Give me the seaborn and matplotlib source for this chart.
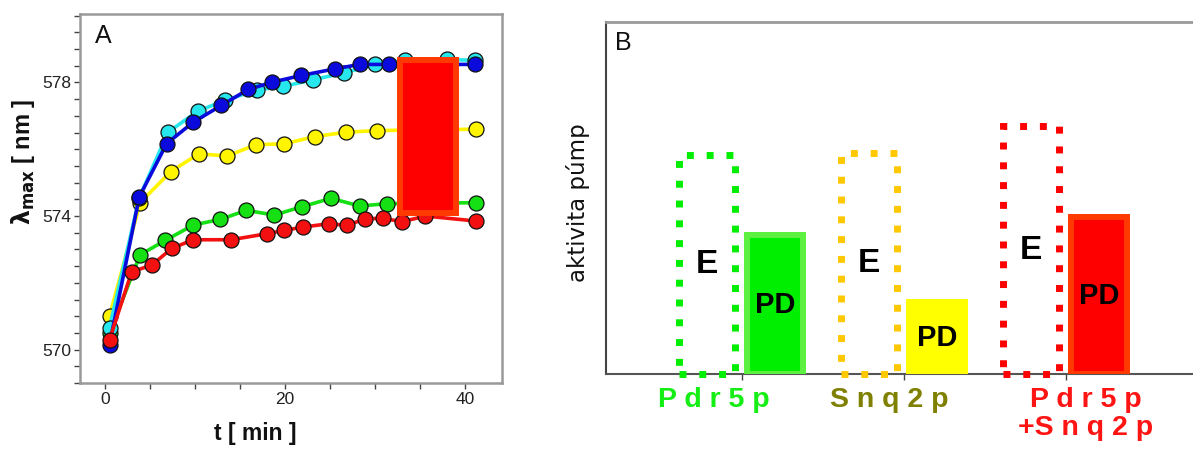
import numpy as np
import pandas as pd
import matplotlib
matplotlib.use("Agg")
import matplotlib.pyplot as plt
from matplotlib.ticker import MultipleLocator, FixedLocator
import seaborn as sns

# ---------------- data: panel A ----------------
t_cyan = [0.5, 3.8, 7.0, 10.3, 13.3, 16.9, 19.8, 23.1, 26.6, 30.0, 33.3, 38.0, 41.1]
v_cyan = [570.66, 574.55, 576.51, 577.14, 577.46, 577.78, 577.88, 578.08, 578.29, 578.54, 578.66, 578.69, 578.66]
t_blue = [0.5, 3.8, 6.85, 9.8, 12.9, 15.9, 18.6, 21.8, 25.6, 28.3, 31.5, 41.1]
v_blue = [570.15, 574.57, 576.17, 576.81, 577.31, 577.79, 578.01, 578.21, 578.41, 578.54, 578.54, 578.54]
t_yellow = [0.5, 3.9, 7.3, 10.4, 13.6, 16.8, 19.9, 23.3, 26.8, 30.2, 41.2]
v_yellow = [571.0, 574.4, 575.33, 575.86, 575.8, 576.14, 576.16, 576.38, 576.51, 576.56, 576.6]
t_green = [0.5, 3.9, 6.7, 9.8, 12.8, 15.7, 18.8, 21.9, 25.1, 28.3, 31.3, 41.2]
v_green = [570.5, 572.84, 573.27, 573.73, 573.9, 574.17, 574.03, 574.28, 574.53, 574.3, 574.37, 574.4]
t_red = [0.5, 2.96, 5.2, 7.4, 9.8, 14.0, 18.0, 19.9, 22.0, 24.9, 26.9, 28.9, 30.9, 33.0, 35.6, 41.2]
v_red = [570.3, 572.33, 572.53, 573.03, 573.29, 573.29, 573.47, 573.57, 573.67, 573.77, 573.72, 573.92, 573.93, 573.83, 574.0, 573.85]

series_order = ["yellow", "green", "cyan", "blue", "red"]
series_colors = {"yellow": "#FFF500", "green": "#14E014", "cyan": "#26E6EE",
                 "blue": "#0A0ADC", "red": "#F21010"}
y_ticks = [570, 574, 578]
x_ticks = [0, 20, 40]

# red overlay box in panel A (time range and wavelength range)
box_t = [32.75, 39.0]
box_v = [574.1, 578.68]

# ---------------- data: panel B ----------------
pumps = ["Pdr5p", "Snq2p", "Pdr5p+Snq2p"]
pump_labels = ["P d r 5 p", "S n q 2 p", "P d r 5 p\n+S n q 2 p"]
label_colors = ["#14EE14", "#7F7F00", "#FF1414"]
E_vals = [0.622, 0.628, 0.704]
PD_vals = [0.395, 0.204, 0.445]
E_edge = ["#00EE00", "#FFC800", "#FF0000"]
PD_face = ["#00EE00", "#FFFF00", "#FF0000"]
PD_edge = ["#5CF040", "#FFFF00", "#FF3A00"]

# ---------------- figure ----------------
sns.set_theme(style="ticks")
plt.rcParams["font.family"] = ["Liberation Sans", "DejaVu Sans"]

W, H = 1193, 453
fig = plt.figure(figsize=(W / 100, H / 100), dpi=100, facecolor="white")

# ---- panel A ----
axA = fig.add_axes([80 / W, 1 - 383 / H, 422 / W, 369 / H])
dfA = pd.concat([
    pd.DataFrame({"t": t_yellow, "v": v_yellow, "s": "yellow"}),
    pd.DataFrame({"t": t_green, "v": v_green, "s": "green"}),
    pd.DataFrame({"t": t_cyan, "v": v_cyan, "s": "cyan"}),
    pd.DataFrame({"t": t_blue, "v": v_blue, "s": "blue"}),
    pd.DataFrame({"t": t_red, "v": v_red, "s": "red"}),
], ignore_index=True)
sns.lineplot(data=dfA, x="t", y="v", hue="s", hue_order=series_order,
             palette=series_colors, marker="o", markersize=10.8,
             markeredgecolor="#111111", markeredgewidth=0.9, linewidth=2.6,
             errorbar=None, legend=False, ax=axA)
axA.bar(x=(box_t[0] + box_t[1]) / 2, height=box_v[1] - box_v[0], bottom=box_v[0],
        width=box_t[1] - box_t[0], color="#FF0000", edgecolor="#FF3A00",
        linewidth=4.3, zorder=5)
axA.set_xlim(-2.78, 44.1)
axA.set_ylim(569.0, 580.05)
axA.xaxis.set_major_locator(FixedLocator(x_ticks))
axA.xaxis.set_minor_locator(MultipleLocator(5))
axA.yaxis.set_major_locator(FixedLocator(y_ticks))
axA.yaxis.set_minor_locator(MultipleLocator(0.5))
axA.tick_params(which="both", direction="out", length=4, width=1.0, color="#444444")
axA.tick_params(which="major", labelsize=12.5, labelcolor="#222222", pad=2.5)
for sp in axA.spines.values():
    sp.set_color("#999999")
    sp.set_linewidth(1.8)
axA.set_xlabel("t [ min ]", fontsize=16.5, fontweight="bold", color="#111111")
axA.xaxis.set_label_coords(0.415, -0.105)
axA.set_ylabel(r"$\mathbf{\lambda}_{\mathbf{max}}$ [ nm ]", fontsize=17,
               fontweight="bold", color="#111111")
axA.yaxis.set_label_coords(-0.134, 0.60)
axA.yaxis.label.set_verticalalignment("center")
axA.text(0.036, 0.972, "A", transform=axA.transAxes, fontsize=18,
         ha="left", va="top", color="#111111")

# ---- panel B ----
axB = fig.add_axes([606 / W, 1 - 374.3 / H, (1199 - 606) / W, 352.6 / H])
dfB = pd.DataFrame({"pump": pumps * 2, "typ": ["E"] * 3 + ["PD"] * 3,
                    "val": E_vals + PD_vals})
sns.barplot(data=dfB, x="pump", y="val", hue="typ", order=pumps,
            hue_order=["E", "PD"], width=0.8, errorbar=None, legend=False,
            saturation=1, ax=axB)
e_bars, pd_bars = axB.containers[0], axB.containers[1]
for i, p in enumerate(e_bars):
    c = p.get_x() + p.get_width() / 2 - 0.015
    p.set_width(0.347)
    p.set_x(c - 0.347 / 2)
    p.set_facecolor("none")
    p.set_edgecolor(E_edge[i])
    p.set_linewidth(5.0)
    p.set_linestyle((0, (1, 1.85)))
    p.set_clip_on(False)
    p.set_zorder(3)
    axB.text(c, p.get_height() / 2, "E", ha="center", va="center",
             fontsize=24, fontweight="bold", color="black")
for i, p in enumerate(pd_bars):
    c = p.get_x() + p.get_width() / 2 + 0.005
    p.set_width(0.35)
    p.set_x(c - 0.35 / 2)
    p.set_facecolor(PD_face[i])
    p.set_edgecolor(PD_edge[i])
    p.set_linewidth(4.3)
    p.set_zorder(3)
    axB.text(c, p.get_height() / 2, "PD", ha="center", va="center",
             fontsize=21, fontweight="bold", color="black")

axB.set_xlim(-0.8377, 2.823)
axB.set_ylim(0, 1)
axB.set_yticks([])
axB.set_xticks(range(len(pumps)))
axB.set_xticklabels([])
axB.tick_params(axis="x", direction="out", length=4, width=1.0, color="#444444")
axB.set_xlabel("")
axB.set_ylabel("aktivita púmp", fontsize=16.5, family=["DejaVu Sans"], color="#111111")
axB.yaxis.set_label_coords(-0.0464, 0.486)
axB.yaxis.label.set_verticalalignment("center")
axB.spines["right"].set_visible(False)
axB.spines["left"].set_color("#444444")
axB.spines["left"].set_linewidth(1.5)
axB.spines["bottom"].set_color("#555555")
axB.spines["bottom"].set_linewidth(1.5)
axB.spines["top"].set_color("#9a9a9a")
axB.spines["top"].set_linewidth(2.0)
label_dx = [-0.172, -0.09, 0.123]
for i, (lab, col) in enumerate(zip(pump_labels, label_colors)):
    axB.text(i + label_dx[i], -0.035, lab, transform=axB.get_xaxis_transform(),
             ha="center", va="top", fontsize=20.5, fontweight="bold",
             color=col, linespacing=1.1)
axB.text(0.0152, 0.975, "B", transform=axB.transAxes, fontsize=18,
         ha="left", va="top", color="#111111")

fig.savefig("out.png", dpi=100, facecolor="white")
